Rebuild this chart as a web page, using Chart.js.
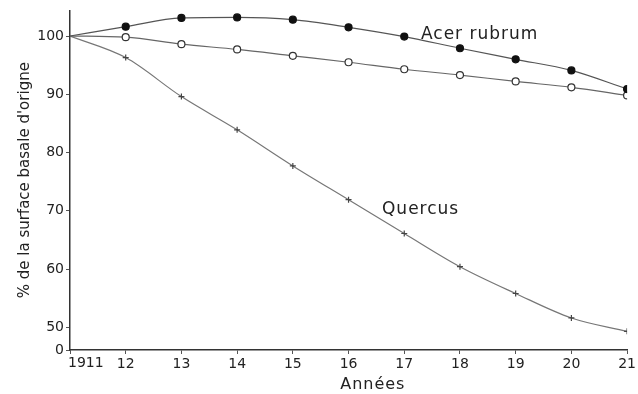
<!DOCTYPE html>
<html>
<head>
<meta charset="utf-8">
<script src="https://cdn.jsdelivr.net/npm/chart.js@4/dist/chart.umd.min.js"></script>
<style>
  html, body { margin: 0; padding: 0; background: #fff; }
  #wrap { width: 638px; height: 394px; }
</style>
</head>
<body>
<div id="wrap"><canvas id="c" width="638" height="394"></canvas></div>
<script>
// Years on the x axis and their printed labels
const years = [1911, 1912, 1913, 1914, 1915, 1916, 1917, 1918, 1919, 1920, 1921];
const yearLabels = ['1911', '12', '13', '14', '15', '16', '17', '18', '19', '20', '21'];

// Basal area as % of the 1911 value
const acerFilled = [100, 101.6, 103.1, 103.2, 102.8, 101.5, 99.9, 97.9, 96.0, 94.1, 90.9];
const acerOpen   = [100, 99.8, 98.6, 97.7, 96.6, 95.5, 94.3, 93.3, 92.2, 91.2, 89.8];
const quercus    = [100, 96.3, 89.6, 83.9, 77.7, 71.9, 66.1, 60.4, 55.8, 51.6, 49.3];

// Y axis: broken scale, bottom tick printed as 0
const yMin = 46.1;
const yMax = 104.4;
const yTickValues = [yMin, 50, 60, 70, 80, 90, 100];
const yTickLabels = ['0', '50', '60', '70', '80', '90', '100'];

// Curve annotations
const annotations = [
  { text: 'Acer rubrum', x: 1917.3, y: 100.2 },
  { text: 'Quercus', x: 1916.6, y: 70.2 }
];
const xTitle = 'Années';

const FONT = 'DejaVu Sans';
const INK = '#222';

const toPoints = arr => arr.map((v, i) => ({ x: years[i], y: v }));

// Curve names, the first year label (set just right of the axis) and the x title
const labelPlugin = {
  id: 'curveLabels',
  afterDraw(chart) {
    const { ctx, scales, chartArea } = chart;
    ctx.save();
    ctx.fillStyle = INK;
    ctx.textBaseline = 'middle';
    if ('letterSpacing' in ctx) ctx.letterSpacing = '1px';
    ctx.font = '17px "' + FONT + '"';
    ctx.textAlign = 'left';
    annotations.forEach(a => {
      ctx.fillText(a.text, scales.x.getPixelForValue(a.x), scales.y.getPixelForValue(a.y));
    });
    ctx.font = '14px "' + FONT + '"';
    if ('letterSpacing' in ctx) ctx.letterSpacing = '0px';
    ctx.fillText(yearLabels[0], scales.x.getPixelForValue(years[0]) - 2, chartArea.bottom + 13);
    ctx.font = '16px "' + FONT + '"';
    if ('letterSpacing' in ctx) ctx.letterSpacing = '1px';
    ctx.fillText(xTitle, scales.x.getPixelForValue(1915.85), chartArea.bottom + 35);
    ctx.restore();
  }
};

new Chart(document.getElementById('c'), {
  type: 'line',
  data: {
    datasets: [
      {
        label: 'Acer rubrum ●',
        data: toPoints(acerFilled),
        borderColor: '#555',
        borderWidth: 1.2,
        backgroundColor: '#111',
        pointBackgroundColor: '#111',
        pointBorderColor: '#111',
        pointRadius: acerFilled.map((v, i) => i === 0 ? 0 : 3.5),
        cubicInterpolationMode: 'monotone'
      },
      {
        label: 'Acer rubrum ○',
        data: toPoints(acerOpen),
        borderColor: '#666',
        borderWidth: 1.2,
        pointBackgroundColor: '#fff',
        pointBorderColor: '#333',
        pointBorderWidth: 1.2,
        pointRadius: acerOpen.map((v, i) => i === 0 ? 0 : 3.5),
        cubicInterpolationMode: 'monotone'
      },
      {
        label: 'Quercus',
        data: toPoints(quercus),
        borderColor: '#777',
        borderWidth: 1.2,
        pointStyle: 'cross',
        pointBorderColor: '#444',
        pointBorderWidth: 1.2,
        pointRadius: quercus.map((v, i) => i === 0 ? 0 : 3),
        cubicInterpolationMode: 'monotone'
      }
    ]
  },
  options: {
    responsive: false,
    animation: false,
    layout: { padding: { top: 7, right: 8, left: 0, bottom: 0 } },
    plugins: { legend: { display: false }, tooltip: { enabled: false } },
    scales: {
      x: {
        type: 'linear',
        min: 1911,
        max: 1921,
        afterBuildTicks(scale) {
          scale.ticks = years.map(v => ({ value: v }));
        },
        afterFit(scale) { scale.height = 44; },
        border: { display: true, color: '#333', width: 1.5 },
        grid: { display: true, drawOnChartArea: false, tickLength: 4, color: '#555' },
        ticks: {
          color: INK,
          font: { family: FONT, size: 14 },
          padding: 2,
          maxRotation: 0,
          autoSkip: false,
          callback(v) {
            const i = years.indexOf(v);
            return i > 0 ? yearLabels[i] : '';
          }
        }
      },
      y: {
        type: 'linear',
        min: yMin,
        max: yMax,
        afterBuildTicks(scale) {
          scale.ticks = yTickValues.map(v => ({ value: v }));
        },
        afterFit(scale) { scale.width = 70; },
        border: { display: true, color: '#333', width: 1.5 },
        grid: { display: true, drawOnChartArea: false, tickLength: 4, color: '#555' },
        ticks: {
          color: INK,
          font: { family: FONT, size: 14 },
          padding: 2,
          autoSkip: false,
          callback(v) {
            const i = yTickValues.indexOf(v);
            return i >= 0 ? yTickLabels[i] : '';
          }
        },
        title: {
          display: true,
          text: "% de la surface basale d'origne",
          color: INK,
          font: { family: FONT, size: 15 },
          padding: { top: 16, bottom: 0 }
        }
      }
    }
  },
  plugins: [labelPlugin]
});
</script>
</body>
</html>
